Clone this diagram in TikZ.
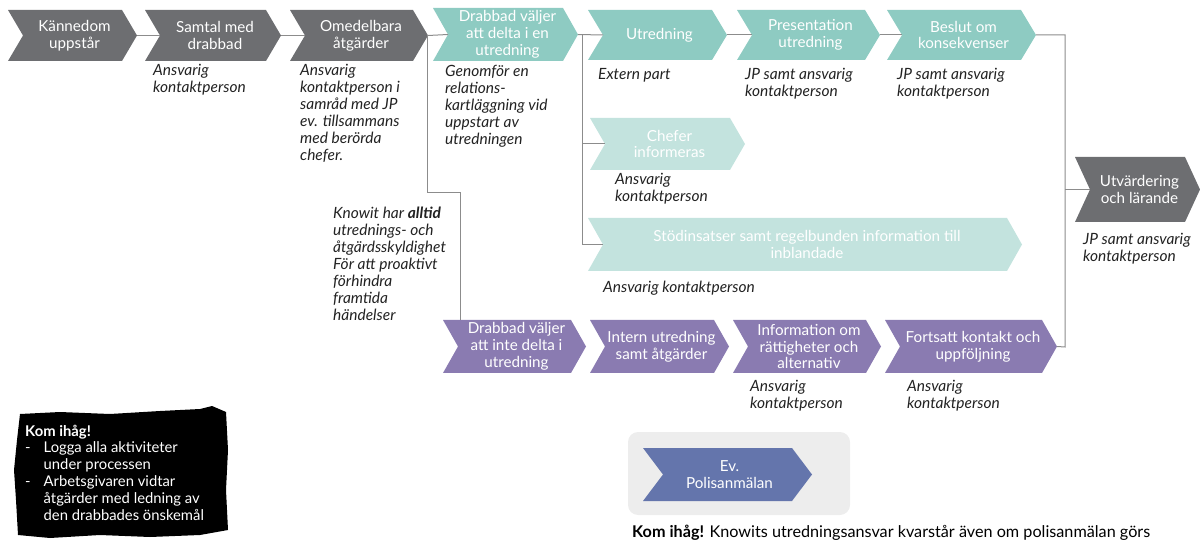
\documentclass[tikz,border=0pt]{standalone}
\usepackage{fontspec}
\setmainfont{Lato}
\definecolor{cgray}{HTML}{6D6E71}
\definecolor{cteal}{HTML}{8ECBC2}
\definecolor{clteal}{HTML}{C3E3DE}
\definecolor{cpurple}{HTML}{8A7BB1}
\definecolor{cblue}{HTML}{6475AC}
\definecolor{cbox}{HTML}{EDEDED}
\definecolor{cline}{HTML}{8C8C8C}
\definecolor{ctext}{HTML}{222222}
\newcommand\chev[8]{%
  \fill[#7] (#2,#4) -- ({#3-#6},#4) -- (#3,{(#4+#5)/2}) -- ({#3-#6},#5) -- (#2,#5) -- ({#2+#6},{(#4+#5)/2}) -- cycle;
  \coordinate (#1-in) at ({#2+#6},{(#4+#5)/2});
  \coordinate (#1-out) at (#3,{(#4+#5)/2});
  \node[chevtext] (#1) at ({(#2+#3)/2+2},{(#4+#5)/2}) {#8};
}
\tikzset{
  chevtext/.style={text=white,align=center,inner sep=0pt,font=\fontsize{15.2}{16.8}\selectfont},
  lbl/.style={anchor=north west,align=left,inner sep=0pt,text=ctext,font=\fontsize{15.5}{17}\selectfont\itshape},
  conn/.style={draw=cline,line width=1pt},
}
\begin{document}
\begin{tikzpicture}[x=1pt,y=-1pt]
\useasboundingbox (0,0) rectangle (1200,545);
\coordinate (j1) at (427,35);
\coordinate (j1c) at (460,193);
\coordinate (p1top) at (460,320);
\coordinate (j2) at (582,35);
\coordinate (j3) at (1065,347);
% row 1
\chev{kann}{8}{137}{10}{61}{15}{cgray}{Kännedom\\uppstår}
\chev{samtal}{145}{281}{10}{61}{15}{cgray}{Samtal med\\drabbad}
\chev{omed}{290}{428}{10}{61}{15}{cgray}{Omedelbara\\åtgärder}
\chev{delta}{433}{578}{8}{61}{15}{cteal}{Drabbad väljer\\att delta i en\\utredning}
\chev{utred}{588}{727}{10}{60}{15}{cteal}{Utredning}
\chev{pres}{737}{880}{10}{60}{15}{cteal}{Presentation\\utredning}
\chev{beslut}{887}{1036}{10}{60}{15}{cteal}{Beslut om\\konsekvenser}
\chev{utv}{1075}{1200}{157}{222}{15}{cgray}{Utvärdering\\och lärande}
\chev{chef}{590}{745}{118}{170}{15}{clteal}{Chefer\\informeras}
\chev{stod}{588}{1022}{218}{271}{15}{clteal}{Stödinsatser samt regelbunden information till\\inblandade}
\chev{p1}{443}{586}{320}{373}{15}{cpurple}{Drabbad väljer\\att inte delta i\\utredning}
\chev{p2}{590}{729}{320}{373}{15}{cpurple}{Intern utredning\\samt åtgärder}
\chev{p3}{733}{881}{320}{373}{15}{cpurple}{Information om\\rättigheter och\\alternativ}
\chev{p4}{885}{1057}{320}{373}{15}{cpurple}{Fortsatt kontakt och\\uppföljning}
% connectors
\draw[conn] (kann-out) -- (samtal-in);
\draw[conn] (samtal-out) -- (omed-in);
\draw[conn] (omed-out) -- (delta-in);
\draw[conn] (j1) |- (j1c) -- (p1top);
\draw[conn] (delta-out) -- (utred-in);
\draw[conn] (j2) |- (stod-in);
\draw[conn] (j2 |- chef-in) -- (chef-in);
\draw[conn] (utred-out) -- (pres-in);
\draw[conn] (pres-out) -- (beslut-in);
\draw[conn] (beslut-out) -| (j3) -- (p4-out);
\draw[conn] (j3 |- utv-in) -- (utv-in);
% labels
\node[lbl] (l2) at (153,64) {Ansvarig\\kontaktperson};
\node[lbl] (l3) at (300,64) {Ansvarig\\kontaktperson i\\samråd med JP\\ev. tillsammans\\med berörda\\chefer.};
\node[lbl] (l4) at (445,65) {Genomför en\\relations-\\kartläggning vid\\uppstart av\\utredningen};
\node[lbl] (l5) at (598,68) {Extern part};
\node[lbl] (l6) at (745,68) {JP samt ansvarig\\kontaktperson};
\node[lbl] (l7) at (897,68) {JP samt ansvarig\\kontaktperson};
\node[lbl] (lchef) at (615,173) {Ansvarig\\kontaktperson};
\node[lbl] (lknow) at (333,207) {Knowit har \textbf{alltid}\\utrednings- och\\åtgärdsskyldighet\\För att proaktivt\\förhindra\\framtida\\händelser};
\node[lbl] (lstod) at (603,281) {Ansvarig kontaktperson};
\node[lbl] (lutv) at (1083,233) {JP samt ansvarig\\kontaktperson};
\node[lbl] (lp3) at (750,380) {Ansvarig\\kontaktperson};
\node[lbl] (lp4) at (907,380) {Ansvarig\\kontaktperson};
% police box
\fill[cbox,rounded corners=10pt] (628,432) rectangle (850,515);
\chev{pol}{643}{812}{448}{501}{20}{cblue}{Ev.\\Polisanmälan}
\node[anchor=west,inner sep=0pt,text=black,font=\fontsize{16.2}{18}\selectfont] (note) at (632,533) {\textbf{Kom ihåg!} Knowits utredningsansvar kvarstår även om polisanmälan görs};
% black blob
\fill[black] (20,414) -- (60,412) -- (110,414) -- (160,411) -- (200,409) -- (212,406) -- (226,412) -- (228,450) -- (226,490) -- (228,530) -- (200,535) -- (150,537) -- (100,535) -- (50,538) -- (18,535) -- (16,500) -- (14,470) -- (17,440) -- cycle;
\node[anchor=north west,inner sep=0pt,text=white,align=left,font=\fontsize{14.8}{17}\selectfont] (kom) at (25,425) {\textbf{Kom ihåg!}\\
\begin{tabular}{@{}l@{\hspace{13pt}}l@{}}
- & Logga alla aktiviteter\\
 & under processen\\
- & Arbetsgivaren vidtar\\
 & åtgärder med ledning av\\
 & den drabbades önskemål
\end{tabular}};
\end{tikzpicture}
\end{document}
